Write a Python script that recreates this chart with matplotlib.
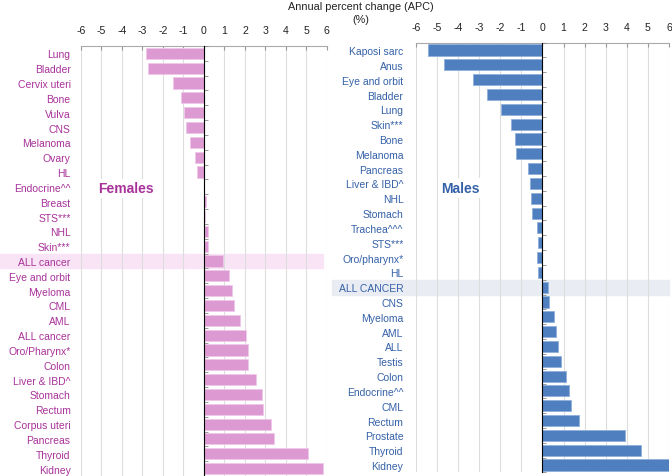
import numpy as np
import matplotlib
matplotlib.use("Agg")
import matplotlib.pyplot as plt

plt.rcParams["font.family"] = ["Liberation Sans", "DejaVu Sans"]

# data (APC, %)
female_sites = ["Lung", "Bladder", "Cervix uteri", "Bone", "Vulva", "CNS", "Melanoma",
                "Ovary", "HL", "Endocrine^^", "Breast", "STS***", "NHL", "Skin***",
                "ALL cancer", "Eye and orbit", "Myeloma", "CML", "AML", "ALL cancer",
                "Oro/Pharynx*", "Colon", "Liver & IBD^", "Stomach", "Rectum",
                "Corpus uteri", "Pancreas", "Thyroid", "Kidney"]
female_apc = [-2.83, -2.75, -1.53, -1.11, -0.96, -0.86, -0.68, -0.44, -0.33, 0.0,
              0.08, 0.07, 0.21, 0.21, 0.93, 1.22, 1.37, 1.48, 1.77, 2.03, 2.13, 2.16,
              2.52, 2.81, 2.89, 3.28, 3.41, 5.07, 5.80]

male_sites = ["Kaposi sarc", "Anus", "Eye and orbit", "Bladder", "Lung", "Skin***", "Bone",
              "Melanoma", "Pancreas", "Liver & IBD^", "NHL", "Stomach", "Trachea^^^",
              "STS***", "Oro/pharynx*", "HL", "ALL CANCER", "CNS", "Myeloma", "AML", "ALL",
              "Testis", "Colon", "Endocrine^^", "CML", "Rectum", "Prostate", "Thyroid",
              "Kidney"]
male_apc = [-5.43, -4.68, -3.29, -2.61, -1.96, -1.48, -1.28, -1.25, -0.70, -0.60, -0.54,
            -0.49, -0.25, -0.22, -0.24, -0.21, 0.27, 0.33, 0.54, 0.62, 0.76, 0.88, 1.12,
            1.26, 1.33, 1.75, 3.90, 4.69, 6.0]

ticks = list(range(-6, 7))

fig = plt.figure(figsize=(6.72, 4.77), dpi=100)
ax_f = fig.add_axes([0.1205, 0.0, 0.366, 0.9015])
ax_m = fig.add_axes([0.619, 0.0075, 0.3765, 0.901])

panels = [
    (ax_f, female_sites, female_apc, "#dd9ad2", "#f0c8ea", "#a8329a", "#f8e4f5",
     "Females", -3.8, 9.1, 14, 7.5, 0.985),
    (ax_m, male_sites, male_apc, "#4f7fbf", "#8fb0dc", "#3561a8", "#e9edf3",
     "Males", -3.9, 9.3, 16, 9, 1.0),
]

for ax, sites, apc, bar_c, edge_c, lab_c, band_c, name, tx, ty, hl_idx, pad, band_end in panels:
    y = np.arange(len(sites))
    ax.barh(y, apc, height=0.75, color=bar_c, edgecolor=edge_c, linewidth=0.6, zorder=3)
    ax.set_xlim(-6, 6)
    ax.set_ylim(len(sites) - 0.5, -0.5)
    ax.set_xticks(ticks)
    ax.set_xticklabels([str(t) for t in ticks], fontsize=7.6, color="#222222")
    ax.xaxis.tick_top()
    ax.tick_params(axis="x", direction="in", length=3, color="#999999", pad=8)
    ax.grid(axis="x", color="#dddddd", linewidth=0.8, zorder=0)
    ax.set_yticks(y)
    ax.set_yticklabels(sites, fontsize=7.5, color=lab_c)
    ax.tick_params(axis="y", length=0, pad=pad)
    for s in ["left", "right", "bottom"]:
        ax.spines[s].set_visible(False)
    ax.spines["top"].set_color("#aaaaaa")
    ax.spines["top"].set_linewidth(0.8)

    # zero line with small ticks between categories
    zero = ax.secondary_yaxis(0.5)
    zero.set_yticks(np.arange(len(sites) + 1) - 0.5)
    zero.set_yticklabels([])
    zero.tick_params(length=3, color="#888888", width=0.6)
    zero.spines["left"].set_color("#888888")
    zero.spines["left"].set_linewidth(0.8)
    zero.set_zorder(4)

    # highlighted "all cancer" row
    ax.axhspan(hl_idx - 0.5, hl_idx + 0.5, xmin=-0.33, xmax=band_end,
               color=band_c, zorder=1, clip_on=False)

    ax.text(tx, ty, name, fontsize=10, fontweight="bold", color=lab_c,
            ha="center", va="center", zorder=5,
            bbox=dict(facecolor="white", edgecolor="none", pad=2))

fig.text(0.537, 0.985, "Annual percent change (APC)", ha="center", va="center",
         fontsize=7.8, color="#222222")
fig.text(0.537, 0.958, "(%)", ha="center", va="center", fontsize=7.8, color="#222222")

fig.savefig("out.png", dpi=100)
